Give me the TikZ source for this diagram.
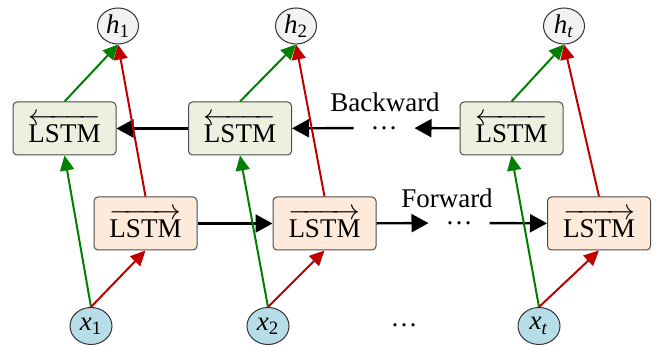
\documentclass[tikz,border=0pt]{standalone}
\usepackage{fontspec}
\setmainfont{Liberation Serif}
\usepackage{amsmath}
\usepackage[dvipsnames]{xcolor}
\usetikzlibrary{arrows.meta,shapes.geometric}

\definecolor{bwfill}{HTML}{EBF1DE}
\definecolor{fwfill}{HTML}{FDEADA}
\definecolor{infill}{HTML}{B7DEE8}
\definecolor{outfill}{HTML}{F2F2F2}
\definecolor{bwline}{HTML}{008000}
\definecolor{fwline}{HTML}{C00000}

\begin{document}
\begin{tikzpicture}[x=0.5pt,y=-0.5pt,>={Triangle[length=7.5pt,width=7pt]},line width=1pt,
    font=\fontsize{13.5}{16}\selectfont,
    lstm node/.style={draw=black!70,line width=0.5pt,rounded corners=2pt,minimum width=51.5pt,minimum height=26.5pt,inner sep=0pt},
    io node/.style={ellipse,draw=black!80,line width=0.5pt,inner sep=0pt},
    dots node/.style={inner ysep=0pt},
    flow/.style={->,>={Triangle[length=8.5pt,width=9pt]},line width=1.2pt}]

            \useasboundingbox (0,0) rectangle (657,346);

            \node[lstm node, fill=bwfill] (b1) at (64.5,128.5) {$\overleftarrow{\text{LSTM}}$};
            \node[lstm node, fill=bwfill] (b2) at (240,128.5) {$\overleftarrow{\text{LSTM}}$};
            \node[lstm node, fill=bwfill] (b3) at (511.5,128.5) {$\overleftarrow{\text{LSTM}}$};
            \node[lstm node, fill=fwfill] (f1) at (145.5,223.5) {$\overrightarrow{\text{LSTM}}$};
            \node[lstm node, fill=fwfill] (f2) at (324.5,223.5) {$\overrightarrow{\text{LSTM}}$};
            \node[lstm node, fill=fwfill] (f3) at (599,223.5) {$\overrightarrow{\text{LSTM}}$};

            \node[io node, fill=outfill, minimum width=20.5pt, minimum height=18pt] (h1) at (118,26) {\textit{h}\textsubscript{1}};
            \node[io node, fill=outfill, minimum width=20.5pt, minimum height=18pt] (h2) at (296,26) {\textit{h}\textsubscript{2}};
            \node[io node, fill=outfill, minimum width=20.5pt, minimum height=18pt] (h3) at (564,26) {\textit{h}\textsubscript{\textit{t}}};
            \node[io node, fill=infill, minimum width=21pt, minimum height=18.5pt] (x1) at (91,326) {\textit{x}\textsubscript{1}};
            \node[io node, fill=infill, minimum width=21pt, minimum height=18.5pt] (x2) at (268,326) {\textit{x}\textsubscript{2}};
            \node[io node, fill=infill, minimum width=21pt, minimum height=18.5pt] (x3) at (539,326) {\textit{x}\textsubscript{\textit{t}}};

            \node[dots node, inner xsep=8pt] (bdots) at (384,128) {\raisebox{-0.05em}[0pt][0pt]{…}};
            \node[dots node, inner xsep=8pt] (fdots) at (459,223) {\raisebox{-0.05em}[0pt][0pt]{…}};
            \node[dots node] (xdots) at (404,325) {\raisebox{-0.05em}[0pt][0pt]{…}};
            \node[inner sep=0pt] (blabel) at (385,102) {Backward};
            \node[inner sep=0pt] (flabel) at (447,198) {Forward};

            % backward chain
            \draw[flow] (b2) to (b1);
            \draw[flow] (bdots) to (b2);
            \draw[flow] (b3) to (bdots);
            % forward chain
            \draw[flow] (f1) to (f2);
            \draw[flow] (f2) to (fdots);
            \draw[flow] (fdots) to (f3);

            \draw[->, bwline] (x1.north) to (b1.south);
            \draw[->, bwline] (x2.north) to (b2.south);
            \draw[->, bwline] (x3.north) to (b3.south);
            \draw[->, fwline] (x1.north) to (f1.south);
            \draw[->, fwline] (x2.north) to (f2.south);
            \draw[->, fwline] (x3.north) to (f3.south);

            \draw[->, bwline] (b1.north) to (h1.south);
            \draw[->, bwline] (b2.north) to (h2.south);
            \draw[->, bwline] (b3.north) to (h3.south);
            \draw[->, fwline] (f1.north) to (h1.south);
            \draw[->, fwline] (f2.north) to (h2.south);
            \draw[->, fwline] (f3.north) to (h3.south);

            ;
        \end{tikzpicture}
\end{document}
